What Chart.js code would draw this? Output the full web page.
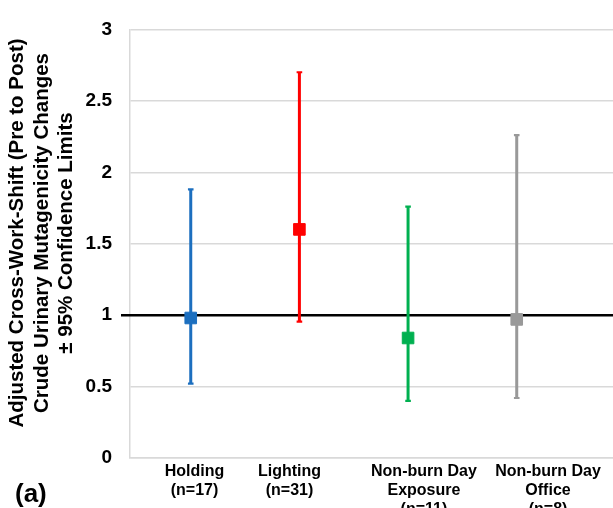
<!DOCTYPE html>
<html>
<head>
<meta charset="utf-8">
<script src="https://cdn.jsdelivr.net/npm/chart.js@4"></script>
<style>
  html, body { margin: 0; padding: 0; background: #ffffff; }
  #wrap { width: 613px; height: 508px; position: relative; }
</style>
</head>
<body>
<div id="wrap"><canvas id="c" width="613" height="508"></canvas></div>
<script>
// ---- data ----
const CATEGORIES = [
  ['Holding', '(n=17)'],
  ['Lighting', '(n=31)'],
  ['Non-burn Day', 'Exposure', '(n=11)'],
  ['Non-burn Day', 'Office', '(n=8)']
];
const MEAN  = [0.98, 1.60, 0.84, 0.97];
const LOWER = [0.52, 0.955, 0.40, 0.42];
const UPPER = [1.88, 2.70, 1.76, 2.26];
const Y_TICKS = [0, 0.5, 1, 1.5, 2, 2.5, 3];
const REF_VALUE = 1;
const Y_TITLE = [
  'Adjusted Cross-Work-Shift (Pre to Post)',
  'Crude Urinary Mutagenicity Changes',
  '\u00B1 95% Confidence Limits'
];
const PANEL_LABEL = '(a)';

// ---- styling ----
const COLORS = ['#1c6fbf', '#ff0000', '#00b050', '#999999'];
const FONT = "'Liberation Sans', Arial, sans-serif";
const LABEL_POS = [1.035, 1.909, 3.146, 4.288]; // Excel-style label centres on the x scale
const X_MIN = 0.441, X_MAX = 4.886;

const datasets = [];
datasets.push({
  label: 'mean',
  order: 0,
  data: MEAN.map((v, i) => ({ x: i + 1, y: v })),
  pointStyle: 'rect',
  pointRadius: 8.2,
  pointHoverRadius: 8.2,
  pointBackgroundColor: COLORS,
  pointBorderColor: COLORS,
  pointBorderWidth: 1,
  showLine: false
});
CATEGORIES.forEach((c, i) => {
  datasets.push({
    label: 'ci' + i,
    order: 1,
    data: [{ x: i + 1, y: LOWER[i] }, { x: i + 1, y: UPPER[i] }],
    showLine: true,
    borderColor: COLORS[i],
    borderWidth: 3,
    pointStyle: 'line',
    pointRadius: 2.8,
    pointHoverRadius: 2.8,
    pointBorderColor: COLORS[i],
    pointBorderWidth: 2.2
  });
});

const refLine = {
  id: 'refLine',
  beforeDatasetsDraw(chart) {
    const y = chart.scales.y.getPixelForValue(REF_VALUE);
    const ctx = chart.ctx;
    ctx.save();
    ctx.strokeStyle = '#000000';
    ctx.lineWidth = 2.5;
    ctx.beginPath();
    ctx.moveTo(chart.chartArea.left - 9, y);
    ctx.lineTo(chart.width, y);
    ctx.stroke();
    ctx.restore();
  }
};

const extraText = {
  id: 'extraText',
  afterDraw(chart) {
    const ctx = chart.ctx;
    ctx.save();
    ctx.fillStyle = '#000000';
    ctx.font = 'bold 20.5px ' + FONT;
    ctx.textAlign = 'center';
    ctx.textBaseline = 'alphabetic';
    const xs = [23, 47.5, 72];
    Y_TITLE.forEach((t, i) => {
      ctx.save();
      ctx.translate(xs[i], 233);
      ctx.rotate(-Math.PI / 2);
      ctx.fillText(t, 0, 0);
      ctx.restore();
    });
    ctx.font = 'bold 26px ' + FONT;
    ctx.textAlign = 'left';
    ctx.fillText(PANEL_LABEL, 15, 502);
    ctx.restore();
  }
};

new Chart(document.getElementById('c'), {
  type: 'scatter',
  data: { datasets },
  plugins: [refLine, extraText],
  options: {
    responsive: false,
    animation: false,
    devicePixelRatio: 1,
    layout: { autoPadding: false, padding: { top: 21, right: 0, bottom: 0, left: 0 } },
    plugins: { legend: { display: false }, tooltip: { enabled: false }, title: { display: false } },
    scales: {
      x: {
        type: 'linear',
        min: X_MIN,
        max: X_MAX,
        afterBuildTicks(scale) { scale.ticks = LABEL_POS.map(v => ({ value: v })); },
        afterFit(scale) { scale.height = 50; scale.paddingLeft = 0; scale.paddingRight = 0; },
        grid: { display: false, drawTicks: false },
        border: { display: true, color: '#d9d9d9', width: 1.5 },
        ticks: {
          autoSkip: false,
          maxRotation: 0,
          minRotation: 0,
          padding: 4,
          color: '#000000',
          font: { family: FONT, size: 16, weight: 'bold', lineHeight: 1.2 },
          callback: (v, i) => CATEGORIES[i]
        }
      },
      y: {
        min: 0,
        max: 3,
        afterBuildTicks(scale) { scale.ticks = Y_TICKS.map(v => ({ value: v })); },
        afterFit(scale) { scale.width = 130; },
        grid: { color: '#d9d9d9', lineWidth: 1.5, drawTicks: false },
        border: { display: true, color: '#d9d9d9', width: 1.5 },
        ticks: {
          padding: 18,
          color: '#000000',
          font: { family: FONT, size: 19, weight: 'bold' },
          callback: v => String(v)
        }
      }
    }
  }
});
</script>
</body>
</html>
